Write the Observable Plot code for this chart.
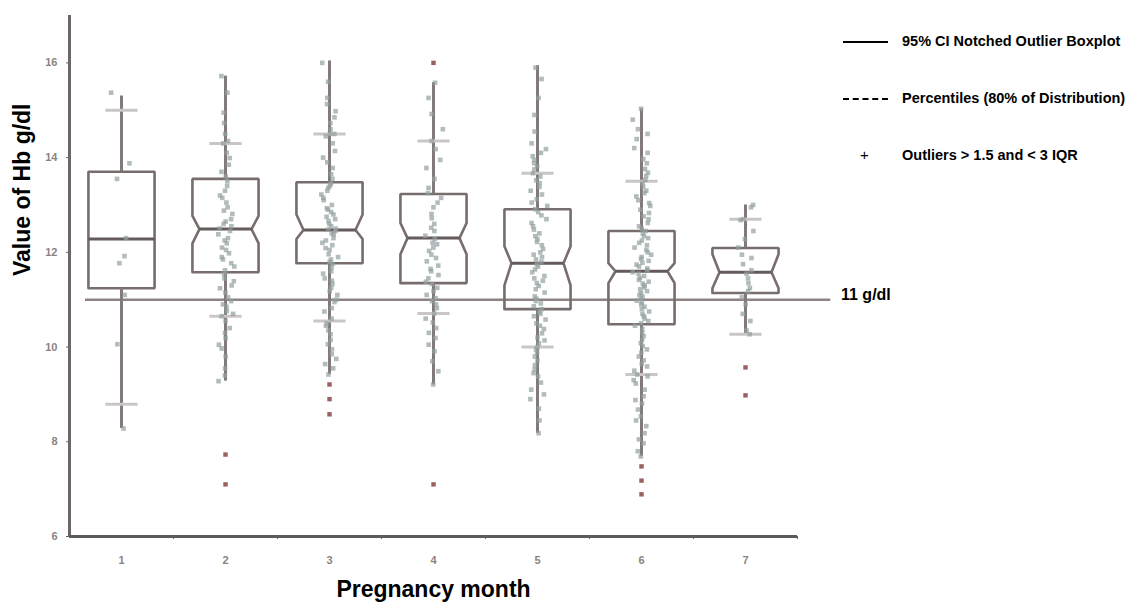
<!DOCTYPE html>
<html>
<head>
<meta charset="utf-8">
<script src="https://cdn.jsdelivr.net/npm/d3@7"></script>
<script src="https://cdn.jsdelivr.net/npm/@observablehq/plot@0.6"></script>
<style>
  body { margin: 0; background: #fff; font-family: "Liberation Sans", Arial, sans-serif; }
  #wrap { position: relative; width: 1133px; height: 605px; }
  .lg { position: absolute; font-weight: bold; font-size: 14.5px; color: #000; white-space: nowrap; }
  .sw { position: absolute; width: 45px; height: 0; }
</style>
</head>
<body>
<div id="wrap">
  <div id="chart"></div>
  <div class="sw" style="left:843px; top:41px; border-top:2.5px solid #000;"></div>
  <div class="lg" style="left:902px; top:33px;">95% CI Notched Outlier Boxplot</div>
  <div class="sw" style="left:843px; top:98px; border-top:2.5px dashed #000;"></div>
  <div class="lg" style="left:902px; top:90px;">Percentiles (80% of Distribution)</div>
  <div class="lg" style="left:860px; top:146px; font-weight:normal; font-size:15px;">+</div>
  <div class="lg" style="left:902px; top:147px;">Outliers &gt; 1.5 and &lt; 3 IQR</div>
  <div class="lg" style="left:841px; top:286px; font-size:16px;">11 g/dl</div>
</div>
<script>
// ---- data ----
const months = [1, 2, 3, 4, 5, 6, 7];
const q1      = [11.24, 11.58, 11.77, 11.35, 10.80, 10.48, 11.14];
const median  = [12.28, 12.49, 12.47, 12.30, 11.77, 11.60, 11.58];
const q3      = [13.70, 13.55, 13.48, 13.23, 12.91, 12.45, 12.09];
const notchLo = [null, 12.19, 12.28, 11.96, 11.30, 11.35, 11.24];
const notchHi = [null, 12.77, 12.80, 12.62, 12.13, 11.77, 11.96];
const whiskerLo = [8.28, 9.28, 9.42, 9.20, 8.18, 7.69, 10.27];
const whiskerHi = [15.30, 15.72, 16.04, 15.58, 15.94, 15.03, 13.00];
const p10 = [8.79, 10.65, 10.55, 10.71, 10.00, 9.42, 10.27];
const p90 = [15.00, 14.30, 14.50, 14.35, 13.67, 13.50, 12.70];
const refValue = 11;
const yTicks = [6, 8, 10, 12, 14, 16];

const pointsM1 = [15.37, 13.88, 13.55, 12.3, 11.92, 11.77, 11.1, 10.06, 8.28];
const pointsM2 = [15.72, 15.37, 14.95, 14.73, 14.5, 14.35, 14.3, 14.1, 13.99, 13.85, 13.7, 13.6, 13.5, 13.4, 13.3, 13.2, 13.15, 13.05, 12.95, 12.88, 12.81, 12.7, 12.65, 12.6, 12.55, 12.5, 12.45, 12.38, 12.3, 12.25, 12.19, 12.1, 12.05, 11.98, 11.9, 11.85, 11.77, 11.7, 11.62, 11.54, 11.45, 11.39, 11.3, 11.24, 11.15, 11.05, 10.97, 10.9, 10.85, 10.76, 10.7, 10.65, 10.55, 10.4, 10.3, 10.19, 10.05, 9.97, 9.8, 9.55, 9.4, 9.28];
const pointsM3 = [16.0, 15.6, 15.26, 15.13, 14.98, 14.85, 14.73, 14.6, 14.5, 14.5, 14.45, 14.3, 14.14, 14.0, 13.9, 13.78, 13.65, 13.55, 13.45, 13.4, 13.36, 13.3, 13.22, 13.15, 13.1, 13.0, 12.93, 12.9, 12.85, 12.8, 12.75, 12.7, 12.66, 12.6, 12.55, 12.5, 12.48, 12.45, 12.4, 12.38, 12.3, 12.25, 12.2, 12.15, 12.09, 12.05, 11.96, 11.9, 11.85, 11.8, 11.75, 11.68, 11.6, 11.55, 11.45, 11.4, 11.33, 11.25, 11.18, 11.1, 11.0, 10.95, 10.82, 10.75, 10.6, 10.5, 10.45, 10.35, 10.27, 10.15, 10.06, 9.95, 9.85, 9.75, 9.64, 9.55, 9.42];
const pointsM4 = [15.58, 15.26, 14.92, 14.6, 14.35, 14.18, 13.95, 13.78, 13.55, 13.36, 13.25, 13.15, 13.05, 12.95, 12.81, 12.72, 12.6, 12.52, 12.45, 12.35, 12.28, 12.2, 12.17, 12.1, 12.03, 11.95, 11.88, 11.81, 11.72, 11.65, 11.6, 11.52, 11.45, 11.38, 11.33, 11.25, 11.18, 11.1, 11.03, 10.97, 10.9, 10.82, 10.71, 10.6, 10.52, 10.4, 10.3, 10.19, 10.05, 9.91, 9.7, 9.49, 9.21];
const pointsM5 = [15.9, 15.66, 15.26, 14.9, 14.55, 14.3, 14.18, 14.1, 14.03, 13.95, 13.88, 13.82, 13.75, 13.67, 13.6, 13.52, 13.46, 13.38, 13.3, 13.22, 13.12, 13.05, 12.98, 12.91, 12.85, 12.78, 12.7, 12.62, 12.55, 12.48, 12.4, 12.34, 12.28, 12.22, 12.15, 12.07, 12.0, 11.95, 11.9, 11.85, 11.8, 11.75, 11.7, 11.64, 11.58, 11.5, 11.45, 11.4, 11.35, 11.29, 11.22, 11.15, 11.07, 11.02, 10.97, 10.92, 10.86, 10.8, 10.75, 10.7, 10.65, 10.58, 10.5, 10.45, 10.38, 10.29, 10.2, 10.14, 10.08, 10.0, 9.95, 9.88, 9.8, 9.72, 9.62, 9.53, 9.45, 9.38, 9.25, 9.1, 9.0, 8.9, 8.7, 8.45, 8.18];
const pointsM6 = [15.03, 14.8, 14.6, 14.5, 14.39, 14.2, 14.1, 13.97, 13.88, 13.76, 13.68, 13.61, 13.53, 13.46, 13.38, 13.3, 13.25, 13.18, 13.1, 13.04, 12.98, 12.9, 12.83, 12.76, 12.7, 12.62, 12.55, 12.5, 12.45, 12.4, 12.34, 12.3, 12.25, 12.2, 12.15, 12.1, 12.05, 12.0, 11.95, 11.9, 11.86, 11.82, 11.78, 11.74, 11.7, 11.66, 11.62, 11.58, 11.55, 11.5, 11.46, 11.42, 11.38, 11.34, 11.3, 11.26, 11.22, 11.18, 11.14, 11.1, 11.06, 11.02, 10.98, 10.94, 10.9, 10.85, 10.8, 10.75, 10.7, 10.65, 10.6, 10.55, 10.5, 10.45, 10.38, 10.3, 10.23, 10.15, 10.08, 10.02, 9.95, 9.88, 9.8, 9.72, 9.65, 9.59, 9.5, 9.42, 9.38, 9.3, 9.23, 9.1, 8.96, 8.88, 8.81, 8.68, 8.54, 8.45, 8.33, 8.18, 8.05, 7.97, 7.8, 7.69];
const pointsM7 = [13.0, 12.95, 12.7, 12.68, 12.45, 12.28, 12.1, 11.95, 11.88, 11.75, 11.62, 11.55, 11.45, 11.35, 11.25, 11.18, 11.05, 10.9, 10.7, 10.55, 10.35, 10.27];
const pointsByMonth = [pointsM1, pointsM2, pointsM3, pointsM4, pointsM5, pointsM6, pointsM7];
const outliersByMonth = [[], [7.73, 7.1], [9.21, 8.9, 8.58], [16.0, 7.1], [], [7.48, 7.18, 6.89], [9.57, 8.98]];

// ---- layout constants (not data) ----
const xDomain = [0.5, 7.5];
const yDomain = [6, 17];
const half = 0.318, inset = 0.068, pctHalf = 0.155;
const refSpan = [0.654, 7.82];

// ---- derived tables ----
const stats = months.map((m, i) => ({
  month: m, q1: q1[i], med: median[i], q3: q3[i], nLo: notchLo[i], nHi: notchHi[i],
  wLo: whiskerLo[i], wHi: whiskerHi[i], p10: p10[i], p90: p90[i]
}));
const boxPath = stats.flatMap(s => {
  const L = s.month - half, R = s.month + half;
  const pts = s.nLo == null
    ? [[L, s.q1], [L, s.q3], [R, s.q3], [R, s.q1], [L, s.q1]]
    : [[L, s.q1], [L, s.nLo], [L + inset, s.med], [L, s.nHi], [L, s.q3], [R, s.q3], [R, s.nHi], [R - inset, s.med], [R, s.nLo], [R, s.q1], [L, s.q1]];
  return pts.map(([x, y]) => ({month: s.month, x, y}));
});
// deterministic visual jitter (horizontal spread only; values are not affected)
const frac = t => t - Math.floor(t);
const jitter = (i, m) => {
  const a = frac(Math.sin(i * 12.9898 + m * 78.233) * 43758.5453);
  const b = frac(Math.sin(i * 39.3468 + m * 11.135) * 24634.6345);
  return ((a + b) / 2 - 0.5) * 0.2;
};
const points = pointsByMonth.flatMap((vals, mi) => vals.map((v, i) => ({month: months[mi], hb: v, x: months[mi] + jitter(i, mi)})));
const outliers = outliersByMonth.flatMap((vals, mi) => vals.map(v => ({month: months[mi], hb: v})));
const boundaries = months.map(m => m + 0.5);

const chart = Plot.plot({
  width: 1133, height: 605,
  marginLeft: 69, marginRight: 336, marginTop: 15, marginBottom: 69,
  style: {fontFamily: "'Liberation Sans', Arial, sans-serif", background: "#fff"},
  x: {domain: xDomain},
  y: {domain: yDomain},
  marks: [
    Plot.axisY({ticks: yTicks, tickSize: 3, tickPadding: 9, label: null, fontSize: 11, fontWeight: "bold", color: "#8a8383", stroke: "#6b6363"}),
    Plot.axisX({ticks: months, tickSize: 0, tickPadding: 20, tickFormat: d => String(d), label: null, fontSize: 11, fontWeight: "bold", color: "#8a8383"}),
    Plot.axisX({ticks: boundaries, tickSize: 3, tickFormat: () => "", label: null, stroke: "#6b6363"}),
    Plot.ruleX([xDomain[0]], {y1: yDomain[0], y2: yDomain[1], stroke: "#6e6666", strokeWidth: 3}),
    Plot.ruleY([yDomain[0]], {x1: xDomain[0], x2: xDomain[1], stroke: "#5f5a5a", strokeWidth: 3}),
    Plot.ruleY([refValue], {x1: refSpan[0], x2: refSpan[1], stroke: "#8e8383", strokeWidth: 2.5}),
    Plot.line(boxPath, {x: "x", y: "y", z: "month", stroke: "#786d6d", strokeWidth: 2.6, strokeLinejoin: "miter"}),
    Plot.link(stats, {x1: d => d.month - half + (d.nLo == null ? 0 : inset), x2: d => d.month + half - (d.nLo == null ? 0 : inset), y1: "med", y2: "med", stroke: "#655b5b", strokeWidth: 3}),
    Plot.ruleX(stats, {x: "month", y1: "wLo", y2: "q1", stroke: "#827a7a", strokeWidth: 3}),
    Plot.ruleX(stats, {x: "month", y1: "q3", y2: "wHi", stroke: "#827a7a", strokeWidth: 3}),
    Plot.link(stats, {x1: d => d.month - pctHalf, x2: d => d.month + pctHalf, y1: "p10", y2: "p10", stroke: "#cbc6c6", strokeWidth: 3}),
    Plot.link(stats, {x1: d => d.month - pctHalf, x2: d => d.month + pctHalf, y1: "p90", y2: "p90", stroke: "#cbc6c6", strokeWidth: 3}),
    Plot.dot(points, {x: "x", y: "hb", symbol: "square", r: 2.6, fill: "#93a0a0", fillOpacity: 0.7, stroke: null}),
    Plot.dot(outliers, {x: "month", y: "hb", symbol: "square", r: 2.5, fill: "#8a4545", fillOpacity: 0.85, stroke: null}),
    Plot.text(["Pregnancy month"], {frameAnchor: "bottom", dy: 60, fontSize: 23, fontWeight: "bold", fill: "#000"}),
    Plot.text(["Value of Hb g/dl"], {frameAnchor: "left", dx: -47, rotate: -90, fontSize: 23, fontWeight: "bold", fill: "#000"})
  ]
});
document.getElementById("chart").appendChild(chart);
</script>
</body>
</html>
